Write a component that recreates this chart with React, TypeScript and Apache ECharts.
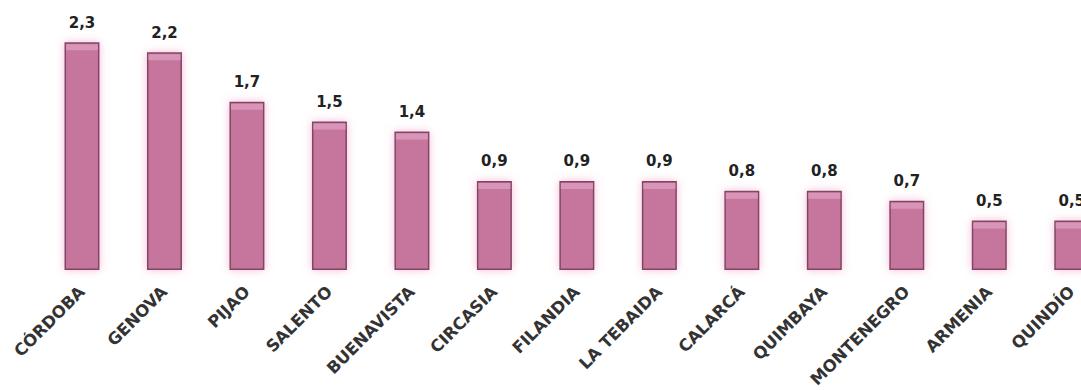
import React, { useEffect, useRef } from "react";
import * as echarts from "echarts";

const categories = [
  "CÓRDOBA",
  "GENOVA",
  "PIJAO",
  "SALENTO",
  "BUENAVISTA",
  "CIRCASIA",
  "FILANDIA",
  "LA TEBAIDA",
  "CALARCÁ",
  "QUIMBAYA",
  "MONTENEGRO",
  "ARMENIA",
  "QUINDÍO",
];
const values = [2.3, 2.2, 1.7, 1.5, 1.4, 0.9, 0.9, 0.9, 0.8, 0.8, 0.7, 0.5, 0.5];

const BAR_W = 35;

export default function App() {
  const ref = useRef<HTMLDivElement>(null);
  useEffect(() => {
    if (!ref.current) return;
    const chart = echarts.init(ref.current, null, { renderer: "svg" });
    chart.setOption({
      animation: false,
      backgroundColor: "#ffffff",
      grid: {
        left: 40.75,
        right: 0,
        top: 22.5,
        bottom: 120,
        containLabel: false,
        outerBoundsMode: "none",
      },
      xAxis: {
        type: "category",
        data: categories,
        axisLine: { show: false },
        axisTick: { show: false },
        splitLine: { show: false },
        axisLabel: {
          interval: 0,
          rotate: 45,
          margin: 19,
          fontFamily: "DejaVu Sans",
          fontWeight: "bold",
          fontSize: 16.5,
          color: "#333333",
        },
      },
      yAxis: {
        type: "value",
        min: 0,
        max: 2.5,
        show: false,
        splitLine: { show: false },
      },
      series: [
        {
          type: "bar",
          data: values,
          barWidth: BAR_W,
          itemStyle: {
            color: "#c6749c",
            borderColor: "#7f4762",
            borderWidth: 1.5,
            shadowColor: "rgba(240,140,190,0.6)",
            shadowBlur: 8,
          },
          label: {
            show: true,
            position: "top",
            distance: 12,
            fontFamily: "DejaVu Sans",
            fontWeight: "bold",
            fontSize: 15,
            color: "#222222",
            formatter: (p: any) => p.value.toFixed(1).replace(".", ","),
          },
        },
        {
          type: "custom",
          silent: true,
          data: values.map((v, i) => [i, v]),
          encode: { x: 0, y: 1 },
          renderItem: (params: any, api: any) => {
            const pt = api.coord([api.value(0), api.value(1)]);
            return {
              type: "rect",
              shape: {
                x: pt[0] - BAR_W / 2 + 1.5,
                y: pt[1] + 2,
                width: BAR_W - 3,
                height: 6,
              },
              style: { fill: "#d995b8" },
            };
          },
          z: 3,
        },
      ],
    });
    return () => chart.dispose();
  }, []);
  return (
    <div
      style={{
        position: "fixed",
        left: 0,
        top: 0,
        width: 1081,
        height: 390,
        overflow: "hidden",
        background: "#ffffff",
      }}
    >
      <div ref={ref} style={{ width: 1113, height: 390 }} />
    </div>
  );
}
